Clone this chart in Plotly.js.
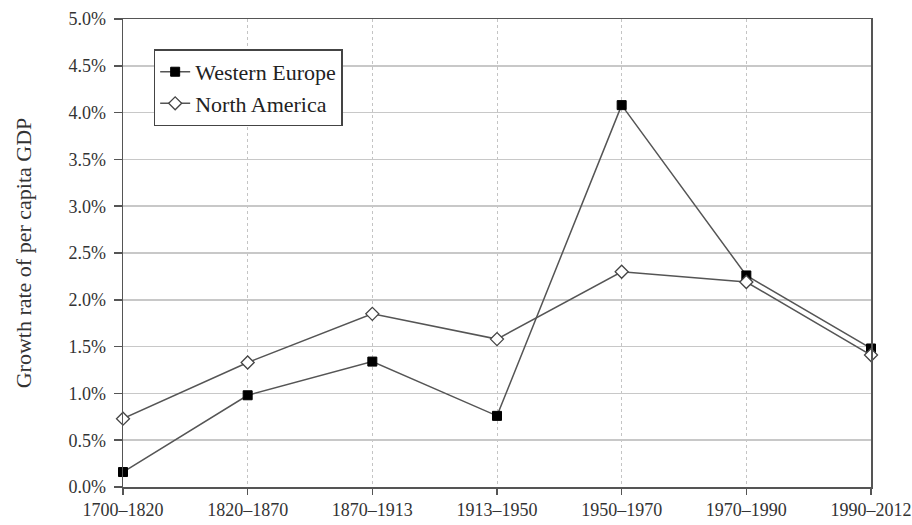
<!DOCTYPE html>
<html>
<head>
<meta charset="utf-8">
<script src="https://cdn.plot.ly/plotly-3.0.1.min.js"></script>
<style>html,body{margin:0;padding:0;background:#fff;}#chart{width:912px;height:525px;}</style>
</head>
<body>
<div id="chart"></div>
<script>
const periods = ["1700–1820","1820–1870","1870–1913","1913–1950","1950–1970","1970–1990","1990–2012"];
const westernEurope = [0.16, 0.98, 1.34, 0.76, 4.08, 2.26, 1.48];
const northAmerica = [0.73, 1.33, 1.85, 1.58, 2.30, 2.19, 1.41];
const yTicks = [0, 0.5, 1, 1.5, 2, 2.5, 3, 3.5, 4, 4.5, 5];
const yTickLabels = ["0.0%","0.5%","1.0%","1.5%","2.0%","2.5%","3.0%","3.5%","4.0%","4.5%","5.0%"];

const fontFamily = "'Liberation Serif', 'DejaVu Serif', serif";
const lineColor = "#555555";

const traces = [
  {
    x: periods, y: westernEurope, name: "Western Europe", type: "scatter", mode: "lines+markers",
    line: {color: lineColor, width: 1.5},
    marker: {symbol: "square", size: 9, color: "#000000", line: {color: "#000000", width: 1}},
    cliponaxis: false
  },
  {
    x: periods, y: northAmerica, name: "North America", type: "scatter", mode: "lines+markers",
    line: {color: lineColor, width: 1.5},
    marker: {symbol: "diamond", size: 10, color: "#ffffff", line: {color: "#444444", width: 1.3}},
    cliponaxis: false
  }
];

const layout = {
  width: 912, height: 525,
  margin: {l: 123, r: 41, t: 19, b: 38},
  paper_bgcolor: "#ffffff", plot_bgcolor: "#ffffff",
  font: {family: fontFamily, size: 16, color: "#333333"},
  showlegend: true,
  legend: {
    x: 0.041, y: 0.935, xanchor: "left", yanchor: "top",
    bgcolor: "#ffffff", bordercolor: "#444444", borderwidth: 1.5,
    font: {family: fontFamily, size: 22, color: "#222222"},
    tracegroupgap: 0, itemwidth: 30
  },
  xaxis: {
    type: "category", range: [0, 6],
    showgrid: true, gridcolor: "#c4c4c4", griddash: "dot", gridwidth: 1,
    showline: true, linecolor: "#555555", linewidth: 1.5, mirror: true,
    ticks: "outside", ticklen: 6, tickcolor: "#555555", tickwidth: 1.5,
    tickfont: {family: fontFamily, size: 18, color: "#333333"},
    zeroline: false, fixedrange: true
  },
  yaxis: {
    range: [0, 5], tickmode: "array", tickvals: yTicks, ticktext: yTickLabels,
    showgrid: true, gridcolor: "#c8c8c8", gridwidth: 1.5,
    showline: true, linecolor: "#555555", linewidth: 1.5, mirror: true,
    ticks: "outside", ticklen: 8, tickcolor: "#555555", tickwidth: 1.5,
    ticklabelstandoff: 4,
    tickfont: {family: fontFamily, size: 18, color: "#333333"},
    title: {text: "Growth rate of per capita GDP", font: {family: fontFamily, size: 22, color: "#333333"}, standoff: 30},
    zeroline: false, fixedrange: true
  }
};

Plotly.newPlot("chart", traces, layout, {displayModeBar: false, staticPlot: true});
</script>
</body>
</html>
